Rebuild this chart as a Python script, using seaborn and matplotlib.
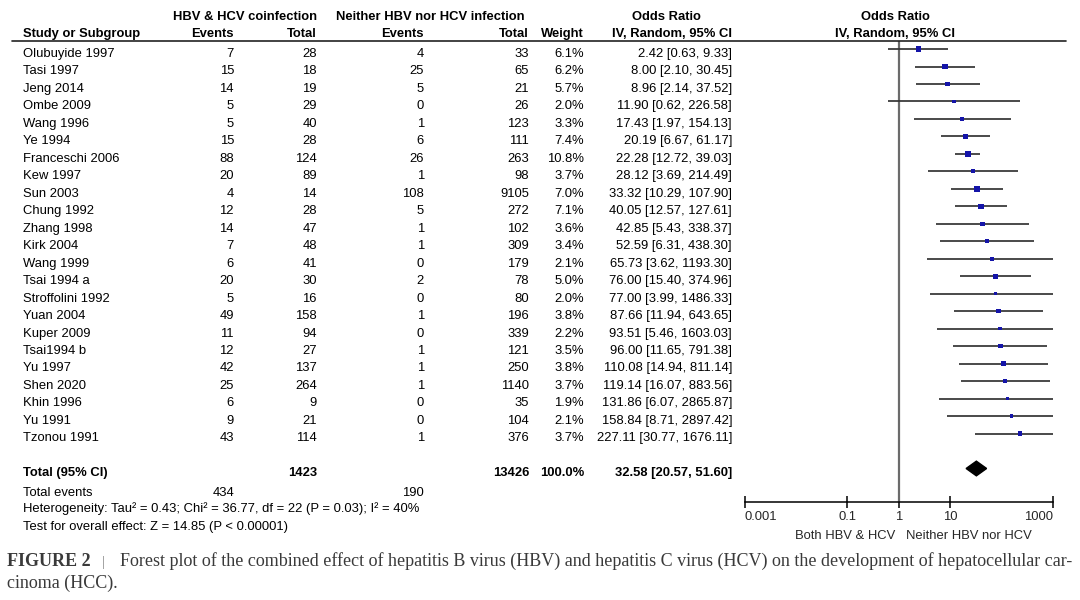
import matplotlib
matplotlib.use('Agg')
import matplotlib.pyplot as plt
import matplotlib.transforms as mtransforms
import numpy as np
import pandas as pd
import seaborn as sns

# Study-level data
studies = ["Olubuyide 1997", "Tasi 1997", "Jeng 2014", "Ombe 2009", "Wang 1996",
           "Ye 1994", "Franceschi 2006", "Kew 1997", "Sun 2003", "Chung 1992",
           "Zhang 1998", "Kirk 2004", "Wang 1999", "Tsai 1994 a", "Stroffolini 1992",
           "Yuan 2004", "Kuper 2009", "Tsai1994 b", "Yu 1997", "Shen 2020",
           "Khin 1996", "Yu 1991", "Tzonou 1991"]
events_co = [7, 15, 14, 5, 5, 15, 88, 20, 4, 12, 14, 7, 6, 20, 5, 49, 11, 12, 42, 25, 6, 9, 43]
total_co = [28, 18, 19, 29, 40, 28, 124, 89, 14, 28, 47, 48, 41, 30, 16, 158, 94, 27, 137, 264, 9, 21, 114]
events_ne = [4, 25, 5, 0, 1, 6, 26, 1, 108, 5, 1, 1, 0, 2, 0, 1, 0, 1, 1, 1, 0, 0, 1]
total_ne = [33, 65, 21, 26, 123, 111, 263, 98, 9105, 272, 102, 309, 179, 78, 80, 196, 339, 121, 250, 1140, 35, 104, 376]
weights = [6.1, 6.2, 5.7, 2.0, 3.3, 7.4, 10.8, 3.7, 7.0, 7.1, 3.6, 3.4, 2.1, 5.0, 2.0, 3.8, 2.2, 3.5, 3.8, 3.7, 1.9, 2.1, 3.7]
odds = [2.42, 8.00, 8.96, 11.90, 17.43, 20.19, 22.28, 28.12, 33.32, 40.05, 42.85, 52.59, 65.73,
        76.00, 77.00, 87.66, 93.51, 96.00, 110.08, 119.14, 131.86, 158.84, 227.11]
ci_low = [0.63, 2.10, 2.14, 0.62, 1.97, 6.67, 12.72, 3.69, 10.29, 12.57, 5.43, 6.31, 3.62,
          15.40, 3.99, 11.94, 5.46, 11.65, 14.94, 16.07, 6.07, 8.71, 30.77]
ci_high = [9.33, 30.45, 37.52, 226.58, 154.13, 61.17, 39.03, 214.49, 107.90, 127.61, 338.37,
           438.30, 1193.30, 374.96, 1486.33, 643.65, 1603.03, 791.38, 811.14, 883.56, 2865.87,
           2897.42, 1676.11]

# Pooled result
total_or = [20.57, 32.58, 51.60]
total_n = [1423, 13426]
total_events = [434, 190]

tick_vals = [0.001, 0.1, 1, 10, 1000]
tick_labels = ["0.001", "0.1", "1", "10", "1000"]

df = pd.DataFrame({'study': studies, 'or': odds, 'lo': ci_low, 'hi': ci_high,
                   'weight': weights})
df['row'] = np.arange(len(df))

sns.set_theme(style='white')
plt.rcParams['font.family'] = ['Liberation Sans', 'DejaVu Sans']

W, H = 1080, 600
fig = plt.figure(figsize=(W / 100, H / 100), dpi=100)
fig.patch.set_facecolor('white')

# forest plot axes (pixel geometry of the reference)
ax_l, ax_r, ax_t, ax_b = 744.7, 1052.7, 41, 501.7
ax = fig.add_axes([ax_l / W, 1 - ax_b / H, (ax_r - ax_l) / W, (ax_b - ax_t) / H])
ax.set_xscale('log')
ax.set_xlim(0.001, 1000)
ax.set_ylim(25.9, -0.46)

ax.axvline(1, color='#6b6b6b', lw=1.6, zorder=1)
ax.hlines(df['row'], df['lo'], df['hi'], color='#333333', lw=1.25, zorder=2)
sns.scatterplot(data=df, x='or', y='row', size='weight', sizes=(6, 22), size_norm=(1.9, 10.8),
                marker='s', color='#1414a8', linewidth=0, legend=False, ax=ax, zorder=3)

total_row = 24
lo_t, mid_t, hi_t = total_or
ax.fill([lo_t, mid_t, hi_t, mid_t], [total_row, total_row - 0.42, total_row, total_row + 0.42],
        color='black', zorder=3)

for s in ['top', 'left', 'right']:
    ax.spines[s].set_visible(False)
ax.spines['bottom'].set_color('black')
ax.spines['bottom'].set_linewidth(1.1)
ax.set_yticks([])
ax.set_xticks(tick_vals)
ax.set_xticklabels(tick_labels)
ax.xaxis.set_minor_locator(matplotlib.ticker.NullLocator())
ax.tick_params(axis='x', direction='inout', length=8, width=1.1, color='black',
               labelsize=9.4, pad=3, bottom=True)
labels = ax.get_xticklabels()
labels[0].set_horizontalalignment('left')
labels[-1].set_horizontalalignment('right')
ax.set_xlabel('')
ax.set_ylabel('')

ax.text(0.85, 28.05, "Both HBV & HCV", ha='right', va='baseline', fontsize=9.4)
ax.text(1.39, 28.05, "Neither HBV nor HCV", ha='left', va='baseline', fontsize=9.4)

# table text: x in figure pixels, y in forest rows
tr = mtransforms.blended_transform_factory(fig.transFigure, ax.transData)
fs = 9.4
off = 0.45


def put(xpx, row, s, ha='right', bold=False):
    ax.text(xpx / W, row + off, s, transform=tr, ha=ha, va='baseline', fontsize=fs,
            fontweight='bold' if bold else 'normal', color='black', clip_on=False)


# header
put(245, -2.1, "HBV & HCV coinfection", ha='center', bold=True)
put(430, -2.1, "Neither HBV nor HCV infection", ha='center', bold=True)
put(666, -2.1, "Odds Ratio", ha='center', bold=True)
put(895, -2.1, "Odds Ratio", ha='center', bold=True)
put(23, -1.15, "Study or Subgroup", ha='left', bold=True)
put(234, -1.15, "Events", bold=True)
put(317, -1.15, "Total", bold=True)
put(424, -1.15, "Events", bold=True)
put(529, -1.15, "Total", bold=True)
put(584, -1.15, "Weight", bold=True)
put(672, -1.15, "IV, Random, 95% CI", ha='center', bold=True)
put(895, -1.15, "IV, Random, 95% CI", ha='center', bold=True)
ax.plot([12 / W, 1066 / W], [-0.46, -0.46], transform=tr, color='#222222', lw=1.2,
        clip_on=False)

for i in range(len(studies)):
    put(23, i, studies[i], ha='left')
    put(234, i, str(events_co[i]))
    put(317, i, str(total_co[i]))
    put(424, i, str(events_ne[i]))
    put(529, i, str(total_ne[i]))
    put(584, i, f"{weights[i]:.1f}%")
    put(732, i, f"{odds[i]:.2f} [{ci_low[i]:.2f}, {ci_high[i]:.2f}]")

put(23, total_row, "Total (95% CI)", ha='left', bold=True)
put(317, total_row, str(total_n[0]), bold=True)
put(529, total_row, str(total_n[1]), bold=True)
put(584, total_row, "100.0%", bold=True)
put(732, total_row, f"{mid_t:.2f} [{lo_t:.2f}, {hi_t:.2f}]", bold=True)
put(23, 25.1, "Total events", ha='left')
put(234, 25.1, str(total_events[0]))
put(424, 25.1, str(total_events[1]))
put(23, 26.05, "Heterogeneity: Tau² = 0.43; Chi² = 36.77, df = 22 (P = 0.03); I² = 40%", ha='left')
put(23, 27.05, "Test for overall effect: Z = 14.85 (P < 0.00001)", ha='left')

# caption
cap_col = '#3a3a3a'
serif = ['Liberation Serif', 'DejaVu Serif']
fig.text(7 / W, 1 - 566 / H, "FIGURE 2", fontsize=13, fontweight='bold', family=serif,
         color=cap_col, va='baseline')
fig.text(102 / W, 1 - 566 / H, "|", fontsize=10, family=serif, color='#888888', va='baseline')
fig.text(120 / W, 1 - 566 / H,
         "Forest plot of the combined effect of hepatitis B virus (HBV) and hepatitis C virus "
         "(HCV) on the development of hepatocellular car-",
         fontsize=13, family=serif, color=cap_col, va='baseline')
fig.text(7 / W, 1 - 588 / H, "cinoma (HCC).", fontsize=13, family=serif, color=cap_col,
         va='baseline')

fig.savefig('out.png', dpi=100, facecolor='white')
